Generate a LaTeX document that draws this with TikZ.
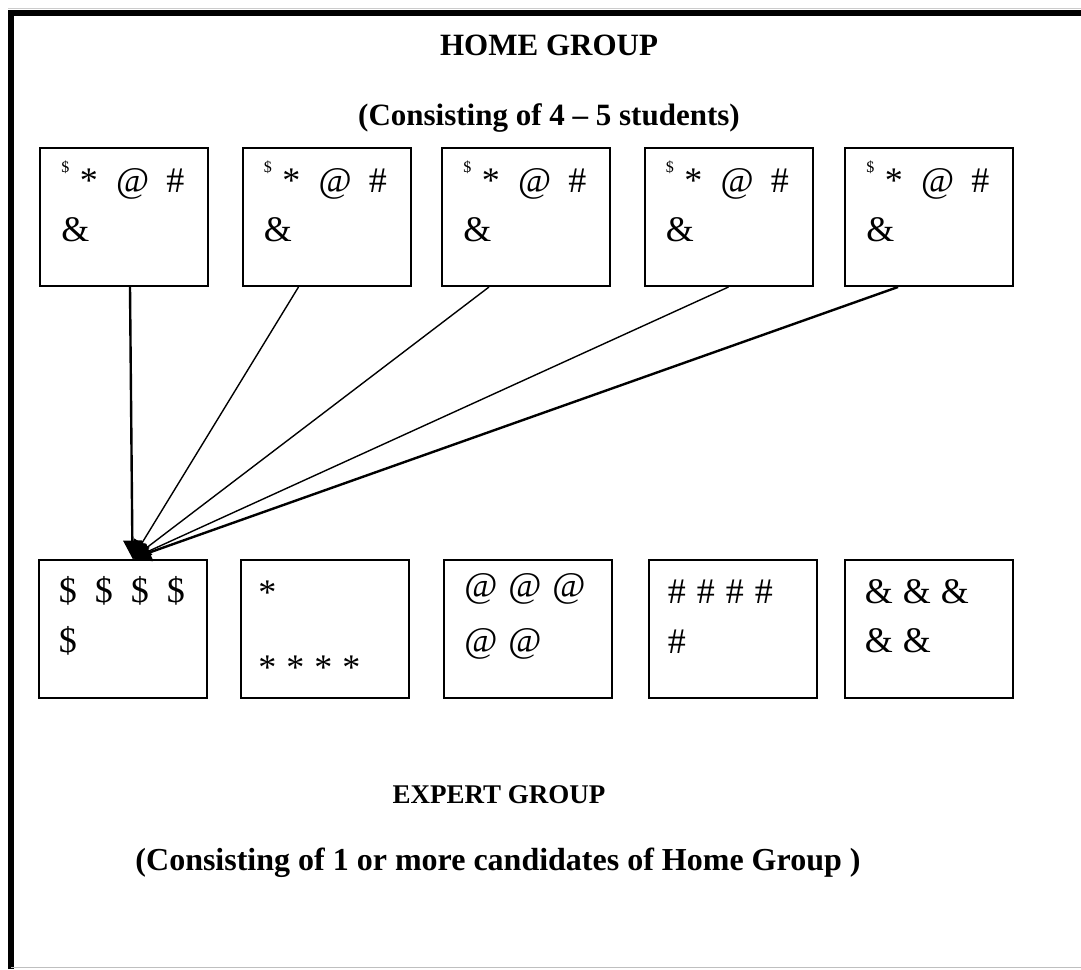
\documentclass[tikz,border=0pt]{standalone}
\usepackage{fontspec}
\setmainfont{Liberation Serif}
\usetikzlibrary{arrows.meta}
\tikzset{>={Triangle[width=9pt,length=9pt]}}
\tikzset{
  grp/.style={draw, line width=1pt, minimum width=84pt, minimum height=69pt, inner sep=0pt},
  sym/.style={anchor=base west, inner sep=0pt, font=\fontsize{18}{21}\selectfont},
  ttl/.style={anchor=base, inner sep=0pt, font=\fontsize{15.5}{19}\selectfont\bfseries},
  lnk/.style={->, line width=0.7pt},
}

\begin{document}
\begin{tikzpicture}[x=0.5pt, y=-0.5pt]

  \newcommand\sm{\raisebox{9.8pt}{\fontsize{8}{9}\selectfont\$}}
  \newcommand\hrow{\sm\hspace{5.2pt}*\hspace{9.2pt}@\hspace{8.5pt}\#}

  \useasboundingbox (0,0) rectangle (1081,969);

  % page frame
  \draw[gray!40, line width=0.4pt] (8,8) -- (1081,8);
  \draw[line width=2.6pt] (11,969) -- (11,13) -- (1081,13);
  \draw[gray!50, line width=0.5pt] (11,967) -- (1081,967);

  % titles
  \node[ttl] (home) at (549,55) {HOME GROUP};
  \node[ttl] (homesub) at (549,125) {(Consisting of 4 -- 5 students)};
  \node[ttl, font=\fontsize{13.5}{16}\selectfont\bfseries] (expert) at (499,803) {EXPERT GROUP};
  \node[ttl, font=\fontsize{16}{19}\selectfont\bfseries] (expertsub) at (498,870) {(Consisting of 1 or more candidates of Home Group )};

  % home group
  \node[grp] (top1) at (124,217) {};
  \node[grp] (top2) at (326.5,217) {};
  \node[grp] (top3) at (526,217) {};
  \node[grp] (top4) at (728.5,217) {};
  \node[grp] (top5) at (929,217) {};

  \node[sym] (h1a) at ([shift={(22,45)}]top1.north west) {\hrow};
  \node[sym] (h1b) at ([shift={(22,94)}]top1.north west) {\&};
  \node[sym] (h2a) at ([shift={(22,45)}]top2.north west) {\hrow};
  \node[sym] (h2b) at ([shift={(22,94)}]top2.north west) {\&};
  \node[sym] (h3a) at ([shift={(22,45)}]top3.north west) {\hrow};
  \node[sym] (h3b) at ([shift={(22,94)}]top3.north west) {\&};
  \node[sym] (h4a) at ([shift={(22,45)}]top4.north west) {\hrow};
  \node[sym] (h4b) at ([shift={(22,94)}]top4.north west) {\&};
  \node[sym] (h5a) at ([shift={(22,45)}]top5.north west) {\hrow};
  \node[sym] (h5b) at ([shift={(22,94)}]top5.north west) {\&};

  % expert group
  \node[grp] (bot1) at (122.5,628.5) {};
  \node[grp] (bot2) at (325,628.5) {};
  \node[grp] (bot3) at (528,628.5) {};
  \node[grp] (bot4) at (732.5,628.5) {};
  \node[grp] (bot5) at (928.5,628.5) {};

  \node[sym] (e1a) at ([shift={(21,44)}]bot1.north west) {\$\hspace{9pt}\$\hspace{9pt}\$\hspace{9pt}\$};
  \node[sym] (e1b) at ([shift={(21,94)}]bot1.north west) {\$};
  \node[sym] (e2a) at ([shift={(18,45.5)}]bot2.north west) {*};
  \node[sym] (e2b) at ([shift={(18,120.5)}]bot2.north west) {*\hspace{5pt}*\hspace{5pt}*\hspace{5pt}*};
  \node[sym] (e3a) at ([shift={(21,39)}]bot3.north west) {@\hspace{5.4pt}@\hspace{5.4pt}@};
  \node[sym] (e3b) at ([shift={(21,94)}]bot3.north west) {@\hspace{5.4pt}@};
  \node[sym] (e4a) at ([shift={(20,45)}]bot4.north west) {\#\hspace{5.5pt}\#\hspace{5.5pt}\#\hspace{5.5pt}\#};
  \node[sym] (e4b) at ([shift={(20,95)}]bot4.north west) {\#};
  \node[sym] (e5a) at ([shift={(21,45)}]bot5.north west) {\&\hspace{5pt}\&\hspace{5pt}\&};
  \node[sym] (e5b) at ([shift={(21,94)}]bot5.north west) {\&\hspace{5pt}\&};

  \coordinate (hub) at ([xshift=5pt]bot1.north);

  \draw[lnk, line width=1.2pt] ([xshift=3pt]top1.south) -- (hub); % 1->$
  \draw[lnk] ([xshift=-14pt]top2.south) -- (hub); % 2->$
  \draw[lnk] ([xshift=-18.5pt]top3.south) -- (hub); % 3->$
  \draw[lnk] (top4.south) -- (hub); % 4->$
  \draw[lnk, line width=1.2pt] ([xshift=-15.5pt]top5.south) -- (hub); % 5->$

\end{tikzpicture}
\end{document}
